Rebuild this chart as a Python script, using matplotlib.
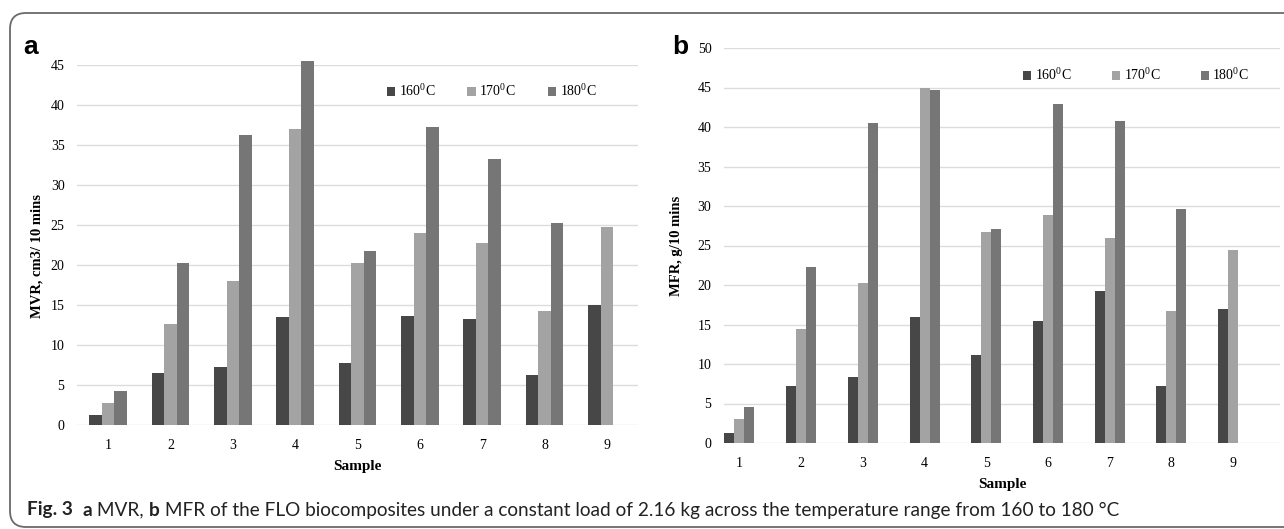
import numpy as np
import matplotlib
matplotlib.use("Agg")
import matplotlib.pyplot as plt
from matplotlib.patches import FancyBboxPatch
from matplotlib.transforms import IdentityTransform

plt.rcParams['font.family'] = ['Liberation Serif', 'DejaVu Serif']
plt.rcParams['mathtext.fontset'] = 'custom'
plt.rcParams['mathtext.rm'] = 'Liberation Serif'

# data
samples = [1, 2, 3, 4, 5, 6, 7, 8, 9]
labels = ['160$^{\\mathrm{0}}$C', '170$^{\\mathrm{0}}$C', '180$^{\\mathrm{0}}$C']
colors = ['#474747', '#a3a3a3', '#767676']

mvr_160 = [1.2, 6.45, 7.3, 13.5, 7.8, 13.6, 13.2, 6.2, 15.0]
mvr_170 = [2.75, 12.6, 18.05, 37.0, 20.2, 24.0, 22.8, 14.2, 24.8]
mvr_180 = [4.3, 20.2, 36.3, 45.5, 21.7, 37.3, 33.3, 25.3, np.nan]

mfr_160 = [1.3, 7.2, 8.35, 15.9, 11.1, 15.5, 19.2, 7.2, 16.9]
mfr_170 = [3.05, 14.4, 20.3, 45.0, 26.65, 28.8, 25.9, 16.7, 24.4]
mfr_180 = [4.6, 22.3, 40.55, 44.7, 27.1, 42.9, 40.7, 29.6, np.nan]

W, H = 1284, 529
fig = plt.figure(figsize=(W / 100, H / 100), dpi=100)

# rounded frame around the figure
frame = FancyBboxPatch((10, 2), 1320, 514, boxstyle="round,pad=0,rounding_size=16",
                       transform=IdentityTransform(), fill=False,
                       edgecolor='#6a6a6a', linewidth=1.3)
fig.patches.append(frame)


def panel(rect, series, width, xlim, ymax, ylabel, leg_xy, colspace):
    ax = fig.add_axes(rect)
    x = np.array(samples, dtype=float)
    for i, vals in enumerate(series):
        ax.bar(x + (i - 1) * width, vals, width, color=colors[i],
               label=labels[i], clip_on=False, zorder=3)
    ax.set_xlim(*xlim)
    ax.set_ylim(0, ymax)
    ax.set_yticks(np.arange(0, ymax + 1, 5))
    ax.set_xticks(samples)
    ax.grid(axis='y', color='#dcdcdc', linewidth=1.0, zorder=0)
    for s in ax.spines.values():
        s.set_visible(False)
    ax.tick_params(length=0, labelsize=10)
    ax.tick_params(axis='x', pad=10)
    ax.tick_params(axis='y', pad=9)
    ax.set_xlabel('Sample', fontsize=11, fontweight='bold', labelpad=6)
    ax.set_ylabel(ylabel, fontsize=10.5, fontweight='bold')
    ax.legend(loc='center left', bbox_to_anchor=leg_xy, bbox_transform=fig.transFigure,
              ncol=3, frameon=False, fontsize=10, handlelength=0.6, handleheight=0.6,
              handletextpad=0.25, columnspacing=colspace, borderpad=0, borderaxespad=0)
    return ax


axa = panel([77 / W, 104 / H, 561 / W, 360 / H], [mvr_160, mvr_170, mvr_180],
            0.2, (0.5, 9.5), 45, 'MVR, cm3/ 10 mins', (387 / W, 1 - 91 / H), 2.3)
axa.yaxis.set_label_coords(-0.059, 0.47)

axb = panel([724 / W, 86 / H, 556 / W, 395 / H], [mfr_160, mfr_170, mfr_180],
            0.162, (0.75, 9.76), 50, 'MFR, g/10 mins', (1023 / W, 1 - 75 / H), 2.9)
axb.yaxis.set_label_coords(-0.073, 0.5)

fig.text(31 / W, 1 - 47 / H, 'a', family='Liberation Sans', fontweight='bold',
         fontsize=19, ha='center', va='center')
fig.text(680 / W, 1 - 47 / H, 'b', family='Liberation Sans', fontweight='bold',
         fontsize=19, ha='center', va='center')

# caption with mixed weights
parts = [('Fig. 3', 'bold'), ('  ', 'normal'), ('a', 'bold'), (' MVR, ', 'normal'),
         ('b', 'bold'),
         (' MFR of the FLO biocomposites under a constant load of 2.16 kg across the '
          'temperature range from 160 to 180 \u00b0C', 'normal')]
renderer = fig.canvas.get_renderer()
xpos = 27
for txt, wt in parts:
    t = fig.text(xpos / W, 1 - 510 / H, txt, family='Lato', fontweight=wt,
                 fontsize=13.7, ha='left', va='center', color='#222222')
    bb = t.get_window_extent(renderer=renderer)
    xpos += bb.width

fig.savefig('out.png', dpi=100)
